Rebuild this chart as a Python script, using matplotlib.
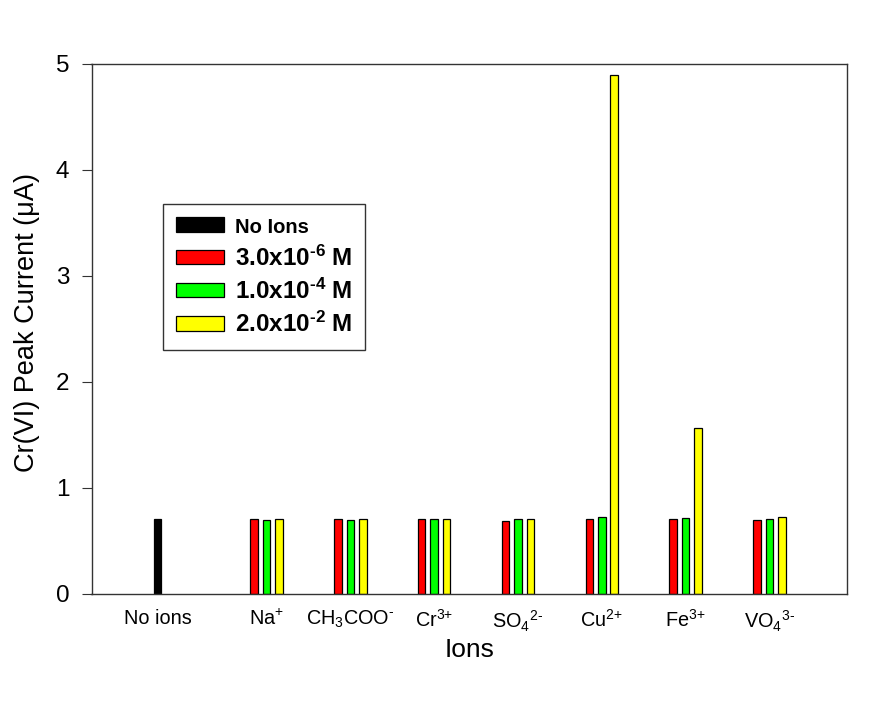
import numpy as np
import matplotlib
matplotlib.use("Agg")
import matplotlib.pyplot as plt

plt.rcParams['font.family'] = ['Liberation Sans', 'DejaVu Sans']
plt.rcParams['mathtext.fontset'] = 'custom'
plt.rcParams['mathtext.rm'] = 'Liberation Sans'
plt.rcParams['mathtext.it'] = 'Liberation Sans:italic'
plt.rcParams['mathtext.bf'] = 'Liberation Sans:bold'

HY = '\u2010'  # plain hyphen for the charge signs

# Interfering ions and Cr(VI) peak currents (uA)
categories = ['No ions', 'Na$^{{+}}$', 'CH$_{3}$COO$^{' + HY + '}$', 'Cr$^{3{+}}$',
              'SO$_{4}$$^{2' + HY + '}$', 'Cu$^{2{+}}$', 'Fe$^{3{+}}$',
              'VO$_{4}$$^{3' + HY + '}$']
no_ions = [0.70]
conc_low = [0.70, 0.70, 0.70, 0.685, 0.70, 0.70, 0.69]    # 3.0x10^-6 M
conc_mid = [0.69, 0.69, 0.70, 0.70, 0.72, 0.71, 0.70]     # 1.0x10^-4 M
conc_high = [0.70, 0.70, 0.70, 0.70, 4.89, 1.56, 0.72]    # 2.0x10^-2 M

legend_labels = ['No Ions',
                 r'3.0x10$^{\mathbf{' + HY + '6}}$ M',
                 r'1.0x10$^{\mathbf{' + HY + '4}}$ M',
                 r'2.0x10$^{\mathbf{' + HY + '2}}$ M']

slot = 0.149
width = 0.09
groups = np.arange(len(categories))
ion_groups = groups[1:]

fig = plt.figure(figsize=(8.96, 7.12), dpi=100)
ax = fig.add_axes([91.5 / 896, 1 - 593.5 / 712, 755.5 / 896, 530 / 712])

x_none = groups[:1] - 1.5 * slot
x_low = ion_groups - 0.5 * slot
x_mid = ion_groups + 0.5 * slot
x_high = ion_groups + 1.5 * slot

kw = dict(width=width, edgecolor='black', linewidth=0.9)
h0 = ax.bar(x_none, no_ions, color='black', **kw)
h1 = ax.bar(x_low, conc_low, color='#ff0000', **kw)
h2 = ax.bar(x_mid, conc_mid, color='#00ff00', **kw)
h3 = ax.bar(x_high, conc_high, color='#ffff00', **kw)

ax.set_xlim(-1.013, 8.0)
ax.set_ylim(0, 5)
ax.set_yticks(range(6))
ax.set_xticks(np.concatenate([x_none, x_mid]))
ax.set_xticklabels(categories, fontsize=14.3)
ax.tick_params(axis='x', length=0, pad=11)
ax.tick_params(axis='y', direction='out', length=7, labelsize=17.5, pad=9,
               color='#333333')

ax.set_xlabel('Ions', fontsize=19, labelpad=3)
ax.set_ylabel('Cr(VI) Peak Current (μA)', fontsize=19.5)
ax.yaxis.set_label_coords((40 - 91.5) / 755.5, (593.5 - 322) / 530)

for sp in ax.spines.values():
    sp.set_linewidth(1.0)
    sp.set_color('#333333')

leg = fig.legend([h0, h1, h2, h3], legend_labels,
                 loc='upper left', bbox_to_anchor=(163 / 896, 1 - 204 / 712),
                 borderaxespad=0,
                 prop={'weight': 'bold', 'size': 17.5},
                 handlelength=1.95, handleheight=0.55, handletextpad=0.45,
                 labelspacing=0.33, borderpad=0.55,
                 fancybox=False, framealpha=1, edgecolor='#333333')
leg.get_frame().set_linewidth(1.0)
leg.get_texts()[0].set_fontsize(14.5)

fig.savefig('out.png', dpi=100)
